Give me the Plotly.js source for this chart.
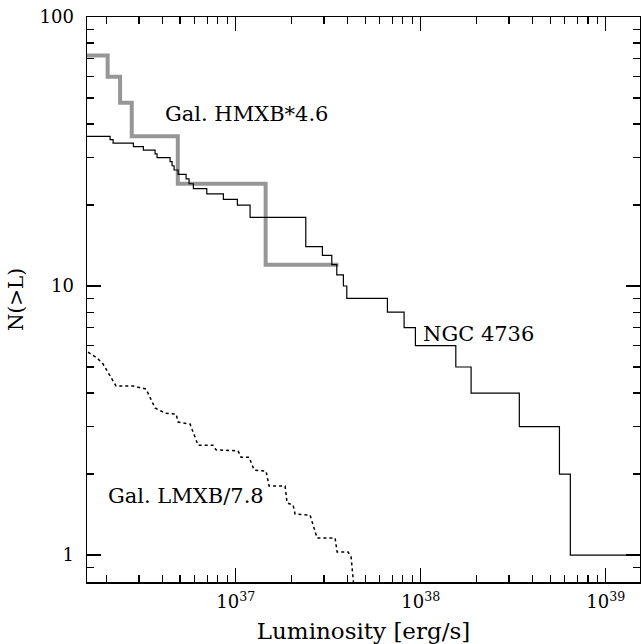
<!DOCTYPE html>
<html>
<head>
<meta charset="utf-8">
<script src="https://cdn.plot.ly/plotly-3.0.1.min.js"></script>
<style>html,body{margin:0;padding:0;background:#fff;}#chart{width:641px;height:644px;}</style>
</head>
<body>
<div id="chart"></div>
<script>
// NGC 4736 cumulative luminosity function (step: value holds from each x to the next)
const ngcL = [1.4e36, 2.092e36, 2.172e36, 2.796e36, 3.166e36, 3.663e36, 3.755e36, 4.415e36, 4.526e36, 4.640e36,
  4.878e36, 5.388e36, 5.592e36, 5.899e36, 6.970e36, 8.570e36, 1.020e37, 1.195e37, 2.390e37, 2.939e37,
  3.303e37, 3.515e37, 3.816e37, 3.981e37, 6.600e37, 8.122e37, 9.350e37, 1.546e38, 1.870e38, 3.408e38,
  5.614e38, 6.429e38, 1.7e39];
const ngcN = [36, 35, 34, 33, 32, 31, 30, 29, 28, 27, 26, 25, 24, 23, 22, 21, 20, 18, 14, 13, 12, 11, 10, 9, 8, 7, 6, 5, 4, 3, 2, 1, 1];

// Galactic HMXB * 4.6
const hmxbL = [1.4e36, 2.03e36, 2.37e36, 2.74e36, 4.86e36, 1.45e37, 3.59e37];
const hmxbN = [72, 60, 48, 36, 24, 12, 12];

// Galactic LMXB / 7.8
const lmxbL = [1.591e36, 1.780e36, 1.918e36, 2.254e36, 2.786e36, 3.274e36, 3.663e36, 4.148e36, 4.757e36, 4.878e36,
  5.662e36, 6.255e36, 7.539e36, 7.826e36, 1.029e37, 1.068e37, 1.180e37, 1.256e37, 1.458e37, 1.514e37,
  1.847e37, 1.894e37, 2.040e37, 2.092e37, 2.521e37, 2.751e37, 3.442e37, 3.529e37, 4.046e37, 4.200e37, 4.400e37];
const lmxbN = [5.68, 5.40, 5.13, 4.25, 4.25, 4.14, 3.52, 3.37, 3.34, 3.12,
  3.07, 2.56, 2.56, 2.46, 2.44, 2.31, 2.31, 2.07, 2.05, 1.805,
  1.805, 1.561, 1.534, 1.420, 1.408, 1.157, 1.157, 1.026, 1.026, 0.983, 0.7];

const xTickVals = [1e37, 1e38, 1e39];
const xTickText = ['10<sup>37</sup>', '10<sup>38</sup>', '10<sup>39</sup>'];
const yTickVals = [1, 10, 100];
const yTickText = ['1', '10', '100'];

const FONT = 'DejaVu Serif, Liberation Serif, serif';

const traces = [
  {x: lmxbL, y: lmxbN, mode: 'lines', line: {color: 'black', width: 1.5, dash: 'dot'}, hoverinfo: 'skip'},
  {x: hmxbL, y: hmxbN, mode: 'lines', line: {color: 'rgb(150,150,150)', width: 4, shape: 'hv'}, hoverinfo: 'skip'},
  {x: ngcL, y: ngcN, mode: 'lines', line: {color: 'black', width: 1.2, shape: 'hv'}, hoverinfo: 'skip'}
];

const axisCommon = {
  showgrid: false, zeroline: false, showline: true, linecolor: 'black', linewidth: 1.5,
  mirror: 'allticks', ticks: 'inside', ticklen: 14, tickwidth: 1.2, tickcolor: 'black',
  tickfont: {family: FONT, size: 18, color: 'black'},
  minor: {ticks: 'inside', ticklen: 7, tickwidth: 1.2, tickcolor: 'black', showgrid: false}
};

const layout = {
  width: 641, height: 644,
  margin: {l: 87, r: 1, t: 17, b: 62},
  paper_bgcolor: 'white', plot_bgcolor: 'white',
  showlegend: false,
  font: {family: FONT, color: 'black'},
  xaxis: Object.assign({}, axisCommon, {
    type: 'log', range: [Math.log10(1.57e36), Math.log10(1.53e39)],
    tickmode: 'array', tickvals: xTickVals, ticktext: xTickText,
    ticklabelstandoff: 3,
    minor: Object.assign({}, axisCommon.minor, {dtick: 'D1'}),
    title: {text: 'Luminosity [erg/s]', font: {family: FONT, size: 23, color: 'black'}, standoff: 12}
  }),
  yaxis: Object.assign({}, axisCommon, {
    type: 'log', range: [Math.log10(0.794), 2],
    tickmode: 'array', tickvals: yTickVals, ticktext: yTickText,
    minor: Object.assign({}, axisCommon.minor, {dtick: 'D1'}),
    ticklabelstandoff: 8,
    title: {text: 'N(>L)', font: {family: FONT, size: 20, color: 'black'}, standoff: 10}
  }),
  annotations: [
    {x: Math.log10(4.05e36), y: Math.log10(43.5), xref: 'x', yref: 'y', text: 'Gal. HMXB*4.6', showarrow: false,
     xanchor: 'left', yanchor: 'middle', font: {family: FONT, size: 21, color: 'black'}},
    {x: Math.log10(1.0e38), y: Math.log10(6.63), xref: 'x', yref: 'y', text: 'NGC 4736', showarrow: false,
     xanchor: 'left', yanchor: 'middle', font: {family: FONT, size: 21, color: 'black'}},
    {x: Math.log10(2.0e36), y: Math.log10(1.657), xref: 'x', yref: 'y', text: 'Gal. LMXB/7.8', showarrow: false,
     xanchor: 'left', yanchor: 'middle', font: {family: FONT, size: 21, color: 'black'}}
  ]
};

Plotly.newPlot('chart', traces, layout, {staticPlot: true, displayModeBar: false});
</script>
</body>
</html>
